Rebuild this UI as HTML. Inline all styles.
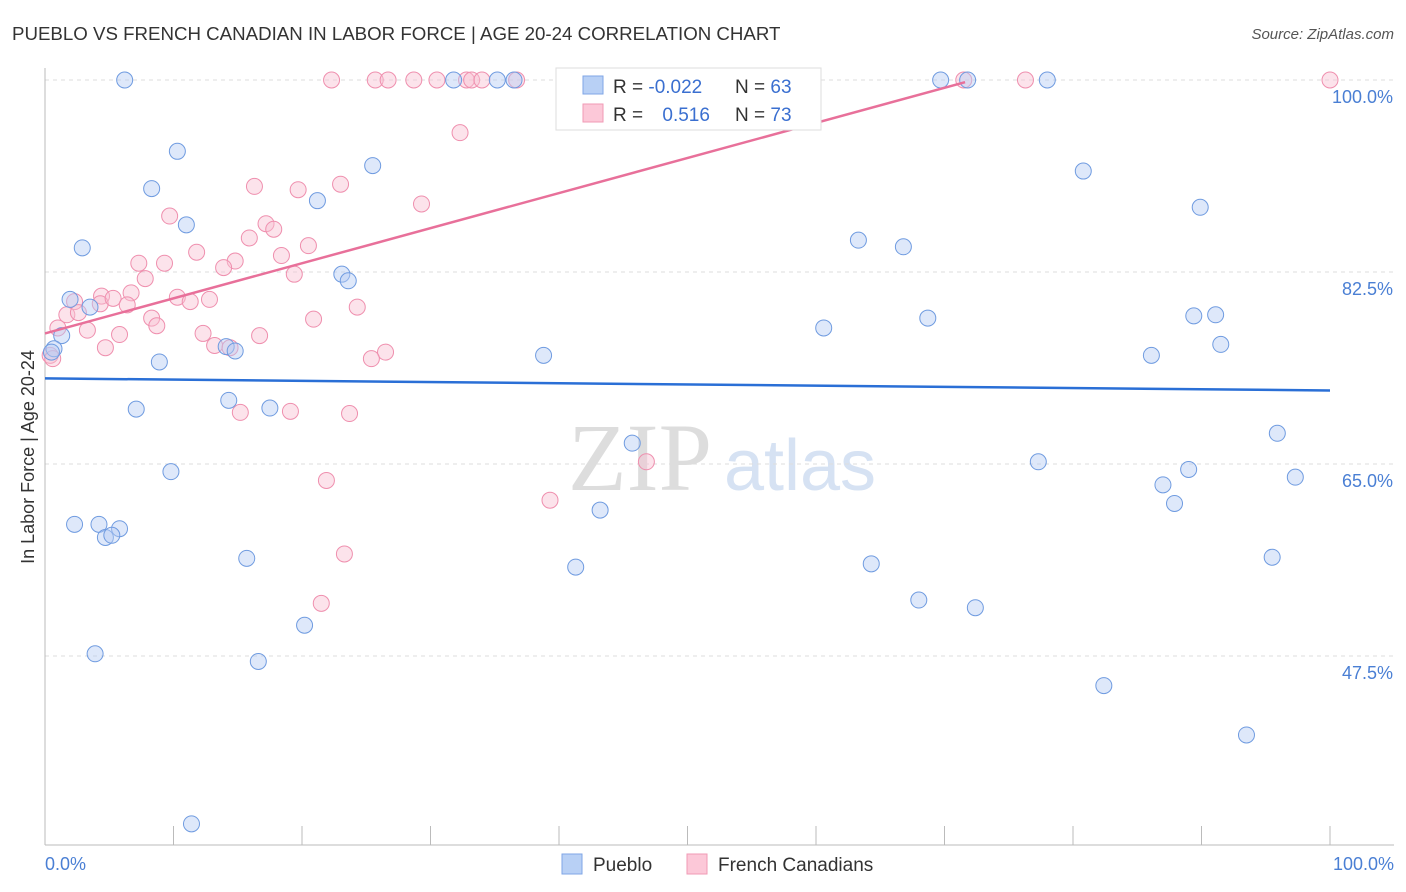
<!DOCTYPE html>
<html><head><meta charset="utf-8">
<style>
body{margin:0;background:#fff;font-family:"Liberation Sans",sans-serif;}
svg{display:block}
</style></head>
<body>
<svg id="chart" width="1406" height="892">
<text x="12" y="40" font-size="18.7" fill="#333">PUEBLO VS FRENCH CANADIAN IN LABOR FORCE | AGE 20-24 CORRELATION CHART</text>
<text x="1394" y="39" font-size="15" fill="#555" font-style="italic" text-anchor="end">Source: ZipAtlas.com</text>
<text x="640" y="490" font-size="96" fill="#ddd" font-family="Liberation Serif" text-anchor="middle">ZIP</text>
<text x="800" y="490" font-size="72" fill="#d6e2f3" text-anchor="middle">atlas</text>
<g id="grid"></g>
<g id="axes"></g>
<g id="marks"></g>
<text transform="translate(34,457) rotate(-90)" font-size="18" fill="#333" text-anchor="middle">In Labor Force | Age 20-24</text>
<text x="45" y="870" font-size="18" fill="#4a7fd4">0.0%</text>
<text x="1394" y="870" font-size="18" fill="#4a7fd4" text-anchor="end">100.0%</text>
<g>
<rect x="556" y="68" width="265" height="62" fill="#fff" stroke="#ddd"/>
<rect x="583" y="76" width="20" height="18" fill="#b8d0f5" stroke="#7fa6e6"/>
<rect x="583" y="104" width="20" height="18" fill="#fcc8d8" stroke="#f09ab5"/>
<text x="613" y="93" font-size="19" fill="#333">R = <tspan fill="#3a6fd0">-0.022</tspan></text>
<text x="735" y="93" font-size="19" fill="#333">N = <tspan fill="#3a6fd0">63</tspan></text>
<text x="613" y="121" font-size="19" fill="#333">R = <tspan fill="#3a6fd0" dx="14">0.516</tspan></text>
<text x="735" y="121" font-size="19" fill="#333">N = <tspan fill="#3a6fd0">73</tspan></text>
</g>
<g>
<rect x="562" y="854" width="20" height="20" fill="#b8d0f5" stroke="#7fa6e6"/>
<text x="593" y="871" font-size="19" fill="#333">Pueblo</text>
</g>
<g>
<rect x="687" y="854" width="20" height="20" fill="#fcc8d8" stroke="#f09ab5"/>
<text x="718" y="871" font-size="19" fill="#333">French Canadians</text>
</g>
</svg>
<script>
const yTicks=[100,82.5,65,47.5];
const xTicks=[0,10,20,30,40,50,60,70,80,90,100];
const puebloX=[6.2,10.3,8.3,11.0,2.9,21.2,25.5,31.8,35.2,36.5,23.1,23.6,1.95,3.5,1.3,0.7,0.5,8.9,14.1,14.8,38.8,7.1,14.3,17.5,9.8,2.3,4.2,5.8,4.7,5.2,15.7,20.2,16.6,3.9,11.4,45.7,43.2,41.3,63.3,66.8,60.6,68.7,69.7,71.8,78.0,80.8,89.9,89.4,91.1,91.5,86.1,77.3,87.0,87.9,89.0,95.9,97.3,95.5,64.3,68.0,72.4,82.4,93.5];
const puebloY=[100,93.5,90.1,86.8,84.7,89.0,92.2,100,100,100,82.3,81.7,80.0,79.3,76.7,75.5,75.2,74.3,75.7,75.3,74.9,70.0,70.8,70.1,64.3,59.5,59.5,59.1,58.3,58.5,56.4,50.3,47.0,47.7,32.2,66.9,60.8,55.6,85.4,84.8,77.4,78.3,100,100,100,91.7,88.4,78.5,78.6,75.9,74.9,65.2,63.1,61.4,64.5,67.8,63.8,56.5,55.9,52.6,51.9,44.8,40.3];
const frenchX=[22.3,25.7,26.7,28.7,30.5,32.8,33.2,34.0,36.7,40.5,71.5,76.3,100,32.3,16.3,19.7,23.0,29.3,9.7,17.2,17.8,15.9,20.5,11.8,18.4,7.3,9.3,14.8,13.9,19.4,7.8,6.7,4.4,2.3,10.3,11.3,12.8,4.3,5.3,6.4,1.7,2.6,8.3,8.7,20.9,24.3,1.0,3.3,5.8,12.3,16.7,4.7,13.2,14.4,26.5,25.4,0.4,0.6,15.2,19.1,23.7,21.9,39.3,46.8,23.3,21.5];
const frenchY=[100,100,100,100,100,100,100,100,100,100,100,100,100,95.2,90.3,90.0,90.5,88.7,87.6,86.9,86.4,85.6,84.9,84.3,84.0,83.3,83.3,83.5,82.9,82.3,81.9,80.6,80.3,79.8,80.2,79.8,80.0,79.6,80.1,79.5,78.6,78.8,78.3,77.6,78.2,79.3,77.4,77.2,76.8,76.9,76.7,75.6,75.8,75.6,75.2,74.6,74.9,74.6,69.7,69.8,69.6,63.5,61.7,65.2,56.8,52.3];
const trendBlue=[72.8,71.7];
const trendPink=[[0,76.9],[71.6,99.8]];
const NS="http://www.w3.org/2000/svg";
const X0=45,X1=1330,Y100=80,PX=10.971;
const sx=v=>X0+(X1-X0)*v/100;
const sy=v=>Y100+(100-v)*PX;
const grid=document.getElementById('grid'),axes=document.getElementById('axes'),marks=document.getElementById('marks');
function mk(tag,attrs,parent){const e=document.createElementNS(NS,tag);for(const k in attrs)e.setAttribute(k,attrs[k]);parent.appendChild(e);return e;}
yTicks.forEach(t=>{
 const l=mk('line',{x1:45,x2:1394,y1:sy(t),y2:sy(t),stroke:'#ddd','stroke-dasharray':'4,4'},grid);
 
 
 const tx=mk('text',{x:1393,y:sy(t)+23,'font-size':18,fill:'#4a7fd4','text-anchor':'end'},grid);
 tx.textContent=t.toFixed(1)+'%';
 
 
});
mk('line',{x1:45,x2:1394,y1:845,y2:845,stroke:'#bbb'},axes);
mk('line',{x1:45,x2:45,y1:68,y2:845,stroke:'#bbb'},axes);
xTicks.forEach(t=>{
 const l=mk('line',{x1:sx(t),x2:sx(t),y1:826,y2:845,stroke:'#bbb'},axes);
 
 
});
function dots(xs,ys,fill,stroke,name){
 xs.forEach((x,i)=>{
  const c=mk('circle',{cx:sx(x),cy:sy(ys[i]),r:8,fill:fill,'fill-opacity':0.45,stroke:stroke,'stroke-width':1},marks);
  
  
 });
}
dots(frenchX,frenchY,'#f9c0d2','#ef8fae','french-canadian-point');
dots(puebloX,puebloY,'#b5cdf3','#6f9be0','pueblo-point');
const tb=mk('line',{x1:sx(0),x2:sx(100),y1:sy(trendBlue[0]),y2:sy(trendBlue[1]),stroke:'#2a6fd6','stroke-width':2.5},marks);


const tp=mk('line',{x1:sx(trendPink[0][0]),x2:sx(trendPink[1][0]),y1:sy(trendPink[0][1]),y2:sy(trendPink[1][1]),stroke:'#e8709a','stroke-width':2.5},marks);


</script>
</body></html>
